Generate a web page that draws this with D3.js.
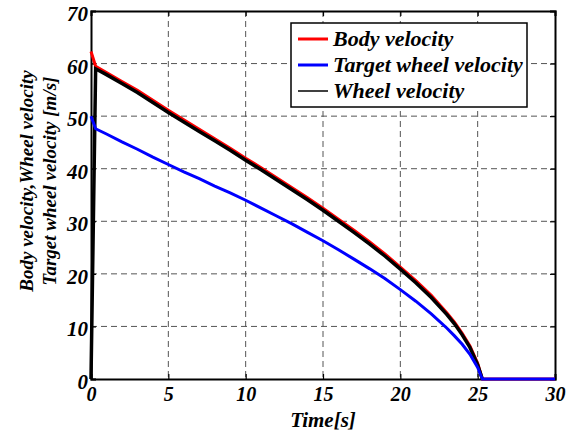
<!DOCTYPE html>
<html>
<head>
<meta charset="utf-8">
<script src="https://cdn.jsdelivr.net/npm/d3@7"></script>
<style>
  body { margin: 0; background: #fff; }
</style>
</head>
<body>
<div id="chart"></div>
<script>
// time samples [s]
var time = [0, 0.3, 1, 2, 3, 4, 5, 6, 7, 8, 9, 10, 11, 12, 13, 14, 15, 16, 17, 18, 19, 20, 21, 22, 23, 23.5, 24, 24.5, 25, 25.3, 30];
var bodyVelocity = [62.3, 59.5, 58.3, 56.6, 54.9, 53.0, 51.1, 49.3, 47.5, 45.7, 43.9, 42.0, 40.2, 38.3, 36.4, 34.5, 32.5, 30.4, 28.3, 26.1, 23.8, 21.3, 18.7, 15.9, 12.6, 10.8, 8.7, 6.3, 3.0, 0, 0];
var targetVelocity = [50.0, 47.6, 46.6, 45.1, 43.7, 42.2, 40.8, 39.4, 38.1, 36.7, 35.4, 34.0, 32.5, 31.0, 29.5, 27.9, 26.3, 24.6, 22.8, 21.0, 19.1, 17.0, 14.8, 12.4, 9.7, 8.2, 6.6, 4.7, 2.2, 0, 0];
var wheelVelocity = [0, 59.0, 57.9, 56.2, 54.5, 52.6, 50.7, 48.9, 47.1, 45.3, 43.5, 41.6, 39.8, 37.9, 36.0, 34.1, 32.1, 30.0, 27.9, 25.7, 23.4, 20.9, 18.3, 15.5, 12.3, 10.5, 8.4, 6.0, 2.7, 0, null];
var xTicks = [0, 5, 10, 15, 20, 25, 30];
var yTicks = [0, 10, 20, 30, 40, 50, 60, 70];
var legendLabels = ["Body velocity", "Target wheel velocity", "Wheel velocity"];

var FONT = "Liberation Serif";
var W = 576, H = 432;
var m = {left: 91, right: 21, top: 11, bottom: 53};
var w = W - m.left - m.right, h = H - m.top - m.bottom;

var svg = d3.select("#chart").append("svg")
    .attr("width", W).attr("height", H);
var g = svg.append("g").attr("transform", "translate(" + m.left + "," + m.top + ")");

var x = d3.scaleLinear().domain([0, 30]).range([0, w]);
var y = d3.scaleLinear().domain([0, 70]).range([h, 0]);

// grid
g.append("g").selectAll("line").data(xTicks.slice(1, -1)).enter().append("line")
    .attr("x1", function(d) { return x(d); }).attr("x2", function(d) { return x(d); })
    .attr("y1", 0).attr("y2", h)
    .attr("stroke", "#555").attr("stroke-width", 1).attr("stroke-dasharray", "6,4");
g.append("g").selectAll("line").data(yTicks.slice(1, -1)).enter().append("line")
    .attr("y1", function(d) { return y(d); }).attr("y2", function(d) { return y(d); })
    .attr("x1", 0).attr("x2", w)
    .attr("stroke", "#555").attr("stroke-width", 1).attr("stroke-dasharray", "6,4");

// axes (ticks inward, matlab box style)
var xAxis = g.append("g").attr("transform", "translate(0," + h + ")")
    .call(d3.axisBottom(x).tickValues(xTicks).tickSize(-5).tickPadding(8));
var yAxis = g.append("g")
    .call(d3.axisLeft(y).tickValues(yTicks).tickSize(-5).tickPadding(3));
g.append("g").call(d3.axisTop(x).tickValues(xTicks).tickSize(-5).tickFormat(""));
g.append("g").attr("transform", "translate(" + w + ",0)")
    .call(d3.axisRight(y).tickValues(yTicks).tickSize(-5).tickFormat(""));
g.selectAll("g").attr("font-family", FONT);
g.selectAll(".domain").attr("stroke", "#000").attr("stroke-width", 2);
g.selectAll(".tick line").attr("stroke", "#000").attr("stroke-width", 1.2);
g.selectAll(".tick text").attr("font-size", 21).attr("fill", "#000")
    .attr("font-family", FONT).attr("font-weight", "bold").attr("font-style", "italic");
xAxis.selectAll("text").attr("font-size", 20).attr("dy", "0.71em");
yAxis.selectAll("text").attr("dy", "0.45em");

// lines
function series(vals) {
    return time.map(function(t, i) { return {t: t, v: vals[i]}; });
}
var line = d3.line()
    .defined(function(d) { return d.v !== null; })
    .x(function(d) { return x(d.t); })
    .y(function(d) { return y(d.v); });

g.append("path").datum(series(bodyVelocity)).attr("d", line)
    .attr("fill", "none").attr("stroke", "#ff0000").attr("stroke-width", 3);
g.append("path").datum(series(wheelVelocity)).attr("d", line)
    .attr("fill", "none").attr("stroke", "#000").attr("stroke-width", 3.5);
g.append("path").datum(series(targetVelocity)).attr("d", line)
    .attr("fill", "none").attr("stroke", "#0000ff").attr("stroke-width", 3);

function styleText(sel) {
    return sel.attr("font-family", FONT).attr("font-weight", "bold")
        .attr("font-style", "italic").attr("fill", "#000");
}

// axis titles
styleText(svg.append("text")).attr("x", m.left + w / 2).attr("y", 427)
    .attr("text-anchor", "middle").attr("font-size", 21).text("Time[s]");
var yt = styleText(svg.append("text")).attr("transform", "translate(33,181) rotate(-90)")
    .attr("text-anchor", "middle").attr("font-size", 19);
yt.append("tspan").attr("x", 0).attr("y", 0).text("Body velocity,Wheel velocity");
yt.append("tspan").attr("x", 0).attr("y", 23).text("Target wheel velocity [m/s]");

// legend
var legendColors = ["#ff0000", "#0000ff", "#000"];
var legendWidths = [3, 3, 1.5];
var lg = svg.append("g").attr("transform", "translate(291,23)");
lg.append("rect").attr("width", 236).attr("height", 84)
    .attr("fill", "#fff").attr("stroke", "#000").attr("stroke-width", 1.5);
var items = lg.selectAll("g.item").data(legendLabels).enter().append("g")
    .attr("class", "item")
    .attr("transform", function(d, i) { return "translate(0," + (16 + i * 26) + ")"; });
items.append("line").attr("x1", 7).attr("x2", 37).attr("y1", 0).attr("y2", 0)
    .attr("stroke", function(d, i) { return legendColors[i]; })
    .attr("stroke-width", function(d, i) { return legendWidths[i]; });
styleText(items.append("text")).attr("x", 42).attr("y", 7).attr("font-size", 22)
    .text(function(d) { return d; });
</script>
</body>
</html>
